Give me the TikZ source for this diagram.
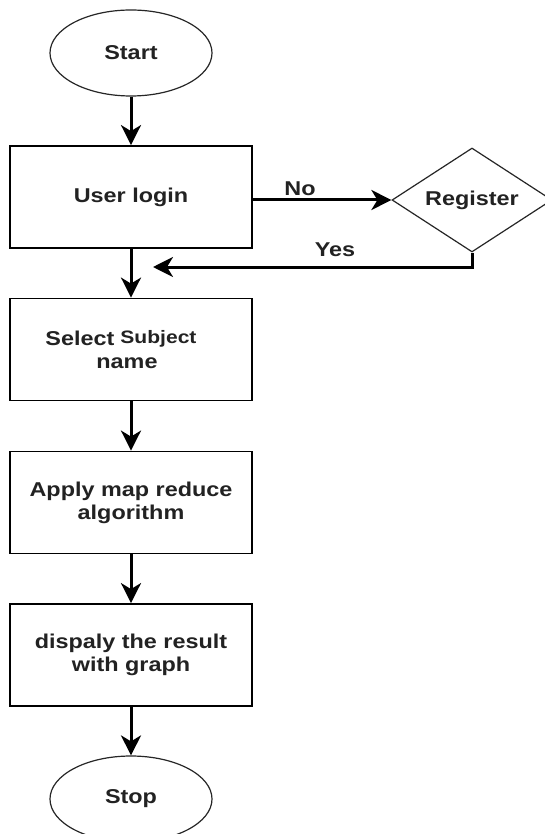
\documentclass[tikz,border=0pt]{standalone}
\usepackage{fontspec}
\setmainfont{Liberation Sans}[FakeStretch=1.17]
\usetikzlibrary{arrows.meta,shapes.geometric}
\definecolor{txt}{HTML}{222222}
\tikzset{
  box/.style={draw=black, line width=1.8pt, rectangle, minimum width=242pt, minimum height=102pt, inner sep=0pt, align=center, text=txt, font=\fontsize{20pt}{23pt}\selectfont\bfseries},
  term/.style={draw=black!85, line width=1.2pt, ellipse, minimum width=162pt, minimum height=86pt, inner sep=0pt, text=txt, font=\fontsize{20pt}{23pt}\selectfont\bfseries},
  dec/.style={draw=black!85, line width=1.2pt, diamond, minimum width=160pt, minimum height=104pt, inner sep=0pt, aspect=1.54, text=txt, font=\fontsize{20pt}{23pt}\selectfont\bfseries},
  lbl/.style={text=txt, inner sep=0pt, font=\fontsize{20pt}{23pt}\selectfont\bfseries},
  arr/.style={draw=black, line width=3pt, -{Stealth[length=20pt, width=20pt, inset=6pt]}}
}
\begin{document}
\begin{tikzpicture}[x=1pt, y=-1pt]
\fill[white] (0,0) rectangle (545,834);
\useasboundingbox (0,0) rectangle (545,834);
\clip (0,0) rectangle (545,834);
\node[term] (start) at (131,53) {Start};
\node[box] (login) at (131,197) {User login};
\node[dec] (reg) at (472,200) {Register};
\node[box] (select) at (131,349.5) {Select\hspace{6pt}\raisebox{2pt}{\fontsize{18pt}{20pt}\selectfont Subject}\rule{20pt}{0pt}\\name\rule{8pt}{0pt}};
\node[box] (apply) at (131,502.5) {Apply map reduce\\algorithm};
\node[box] (disp) at (131,655) {dispaly the result\\with graph};
\node[term] (stop) at (131,799) {Stop};
\node[lbl] (no) at (300,189) {No};
\node[lbl] (yes) at (335,250) {Yes};
\coordinate (yesend) at (153,267);
\draw[arr] (start) -- (login);
\draw[arr] (login.east |- reg.west) -- (reg.west);
\draw[arr] (reg.south) |- (yesend);
\draw[arr] (login) -- (select);
\draw[arr] (select) -- (apply);
\draw[arr] (apply) -- (disp);
\draw[arr] (disp) -- (stop);
\end{tikzpicture}
\end{document}
